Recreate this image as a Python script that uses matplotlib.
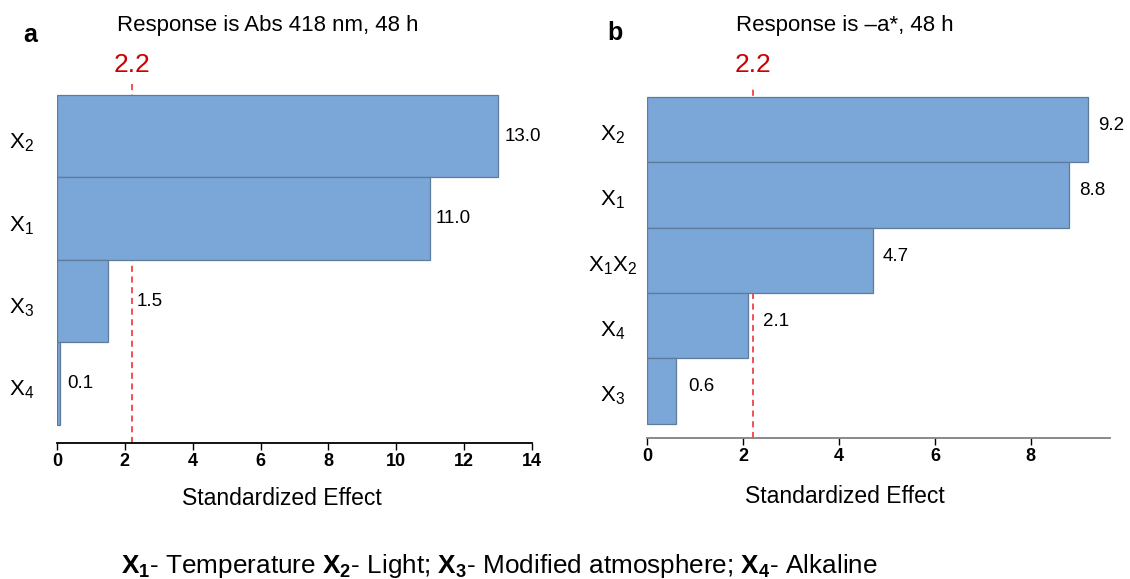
import matplotlib
matplotlib.use("Agg")
import matplotlib.pyplot as plt
from matplotlib import font_manager
from matplotlib.transforms import blended_transform_factory, offset_copy

plt.rcParams['font.family'] = ['Liberation Sans', 'DejaVu Sans']
plt.rcParams['mathtext.fontset'] = 'custom'
plt.rcParams['mathtext.rm'] = 'Liberation Sans'
plt.rcParams['mathtext.it'] = 'Liberation Sans'

# narrow face for the legend line, if it is there
names = {f.name for f in font_manager.fontManager.ttflist}
narrow = 'Liberation Sans Narrow' if 'Liberation Sans Narrow' in names else 'Liberation Sans'
plt.rcParams['mathtext.bf'] = narrow + ':bold'

# Pareto data, top bar first
terms_a = [r'$\mathrm{X_2}$', r'$\mathrm{X_1}$', r'$\mathrm{X_3}$', r'$\mathrm{X_4}$']
effects_a = [13.0, 11.0, 1.5, 0.1]
terms_b = [r'$\mathrm{X_2}$', r'$\mathrm{X_1}$', r'$\mathrm{X_1X_2}$', r'$\mathrm{X_4}$', r'$\mathrm{X_3}$']
effects_b = [9.2, 8.8, 4.7, 2.1, 0.6]
critical = 2.2

bar_face = '#7ba6d8'
bar_edge = '#5f7b9c'
red = '#cc0000'

fig = plt.figure(figsize=(11.3, 5.79), dpi=100)
ax_a = fig.add_axes([0.0504, 0.2349, 0.4204, 0.6269])
ax_b = fig.add_axes([0.5726, 0.2435, 0.4097, 0.6097])


def pareto(ax, terms, effects, xmax, ticks, spine_col, label_pads, label_dy, xlab_pos):
    n = len(effects)
    ypos = list(range(n - 1, -1, -1))
    ax.barh(ypos, effects, height=1.0, color=bar_face, edgecolor=bar_edge,
            linewidth=0.9, zorder=3)
    ax.axvline(critical, color='#ee2222', linestyle=(0, (4, 3)), linewidth=1.1, zorder=1)
    ax.set_xlim(0, xmax)
    ax.set_ylim(-0.72, n - 0.5 + 0.18)
    for s in ['left', 'right', 'top']:
        ax.spines[s].set_visible(False)
    ax.spines['bottom'].set_color(spine_col)
    ax.spines['bottom'].set_linewidth(1.3)
    ax.set_yticks([])
    ax.set_xticks(ticks)
    ax.set_xticklabels([str(t) for t in ticks], fontweight='bold', fontsize=13)
    ax.tick_params(axis='x', length=5, width=1, pad=2, colors='black')
    ax.set_xlabel('Standardized Effect', fontsize=16.5)
    ax.xaxis.set_label_coords(*xlab_pos)

    # term labels left of the bars
    tr = blended_transform_factory(ax.transAxes, ax.transData)
    for y, t in zip(ypos, terms):
        ax.text(-0.075, y - 0.08, t, transform=tr, ha='center', va='center', fontsize=16)

    # effect values next to each bar
    for y, v, p in zip(ypos, effects, label_pads):
        tv = offset_copy(ax.transData, fig=fig, x=p, y=label_dy, units='points')
        ax.text(v, y, f'{v:.1f}', transform=tv, ha='left', va='center', fontsize=13.5)

    # critical value above the plot
    tc = blended_transform_factory(ax.transData, fig.transFigure)
    ax.text(critical, 1 - 65 / 579, f'{critical}', transform=tc, ha='center', va='center',
            fontsize=19, color=red)


pareto(ax_a, terms_a, effects_a, 14, [0, 2, 4, 6, 8, 10, 12, 14], 'black',
       [5, 4, 21, 5], 0, (0.474, -0.122))
pareto(ax_b, terms_b, effects_b, 9.65, [0, 2, 4, 6, 8], '#808080',
       [7, 7, 7, 11, 9], 3, (0.428, -0.134))

fig.text(268 / 1130, 1 - 25 / 579, 'Response is Abs 418 nm, 48 h', ha='center', va='center', fontsize=16)
fig.text(845 / 1130, 1 - 25 / 579, 'Response is \u2013a*, 48 h', ha='center', va='center', fontsize=16)
fig.text(30 / 1130, 1 - 35 / 579, 'a', ha='center', va='center', fontsize=18, fontweight='bold')
fig.text(615 / 1130, 1 - 33 / 579, 'b', ha='center', va='center', fontsize=18, fontweight='bold')

fig.text(121 / 1130, 1 - 566 / 579,
         r'$\mathbf{X_1}$- Temperature $\mathbf{X_2}$- Light; $\mathbf{X_3}$- Modified atmosphere; '
         r'$\mathbf{X_4}$- Alkaline',
         ha='left', va='center', fontsize=18.8, family=[narrow, 'DejaVu Sans'])

fig.savefig('out.png', dpi=100)
